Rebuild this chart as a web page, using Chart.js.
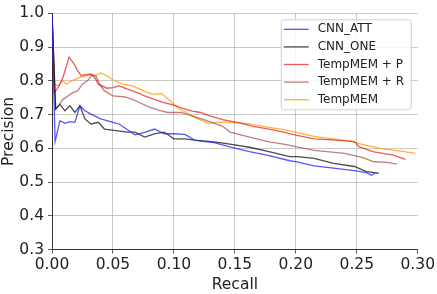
<html>
<head>
<script src="https://cdn.jsdelivr.net/npm/chart.js@4"></script>
<style>
  body { margin: 0; background: #fff; }
</style>
</head>
<body>
<div style="width:437px;height:294px;">
  <canvas id="myChart" width="437" height="294"></canvas>
</div>
<script>
// series labels
const labels = ['CNN_ATT', 'CNN_ONE', 'TempMEM + P', 'TempMEM + R', 'TempMEM'];

// CNN_ATT
const recallAtt = [0, 0.0025, 0.0065, 0.0106, 0.0147, 0.0188, 0.0229, 0.027, 0.032, 0.04, 0.05, 0.055, 0.062, 0.068, 0.076, 0.084, 0.092, 0.1, 0.109, 0.117, 0.125, 0.133, 0.146, 0.162, 0.178, 0.195, 0.201, 0.215, 0.231, 0.248, 0.258, 0.262, 0.265];
const precAtt   = [1.0, 0.62, 0.682, 0.674, 0.679, 0.677, 0.726, 0.711, 0.701, 0.687, 0.677, 0.672, 0.655, 0.64, 0.647, 0.657, 0.643, 0.643, 0.641, 0.624, 0.62, 0.617, 0.604, 0.59, 0.578, 0.563, 0.56, 0.548, 0.541, 0.534, 0.528, 0.52, 0.526];

// CNN_ONE
const recallOne = [0, 0.003, 0.0065, 0.0106, 0.0147, 0.0188, 0.0229, 0.027, 0.032, 0.038, 0.043, 0.051, 0.062, 0.068, 0.076, 0.084, 0.092, 0.1, 0.109, 0.117, 0.133, 0.146, 0.162, 0.178, 0.195, 0.201, 0.215, 0.231, 0.248, 0.258, 0.268];
const precOne   = [1.0, 0.716, 0.73, 0.711, 0.726, 0.706, 0.726, 0.687, 0.672, 0.677, 0.657, 0.653, 0.648, 0.648, 0.633, 0.643, 0.648, 0.628, 0.628, 0.624, 0.619, 0.612, 0.603, 0.59, 0.575, 0.575, 0.57, 0.555, 0.546, 0.531, 0.526];

// TempMEM + P
const recallP = [0, 0.002, 0.005, 0.009, 0.014, 0.018, 0.021, 0.024, 0.028, 0.032, 0.035, 0.038, 0.045, 0.05, 0.055, 0.062, 0.07, 0.076, 0.084, 0.092, 0.1, 0.106, 0.115, 0.122, 0.13, 0.14, 0.154, 0.165, 0.178, 0.19, 0.201, 0.215, 0.23, 0.248, 0.252, 0.264, 0.28, 0.29];
const precP   = [1.0, 0.765, 0.78, 0.81, 0.87, 0.85, 0.83, 0.815, 0.818, 0.82, 0.81, 0.79, 0.778, 0.78, 0.785, 0.775, 0.765, 0.755, 0.745, 0.735, 0.728, 0.72, 0.71, 0.706, 0.695, 0.685, 0.675, 0.665, 0.657, 0.648, 0.638, 0.628, 0.625, 0.62, 0.604, 0.589, 0.58, 0.567];

// TempMEM + R
const recallR = [0, 0.003, 0.006, 0.009, 0.013, 0.017, 0.021, 0.025, 0.029, 0.033, 0.036, 0.039, 0.043, 0.05, 0.06, 0.066, 0.072, 0.08, 0.088, 0.095, 0.106, 0.114, 0.122, 0.131, 0.14, 0.146, 0.162, 0.178, 0.19, 0.201, 0.215, 0.24, 0.255, 0.264, 0.275, 0.283];
const precR   = [1.0, 0.716, 0.73, 0.745, 0.755, 0.765, 0.77, 0.79, 0.8, 0.818, 0.815, 0.79, 0.77, 0.755, 0.752, 0.745, 0.735, 0.722, 0.712, 0.706, 0.706, 0.697, 0.688, 0.677, 0.665, 0.648, 0.633, 0.619, 0.612, 0.604, 0.594, 0.585, 0.572, 0.56, 0.558, 0.553];

// TempMEM
const recallMem = [0, 0.002, 0.005, 0.009, 0.012, 0.016, 0.023, 0.03, 0.035, 0.04, 0.045, 0.05, 0.058, 0.066, 0.075, 0.083, 0.09, 0.097, 0.103, 0.11, 0.118, 0.128, 0.14, 0.152, 0.162, 0.178, 0.19, 0.203, 0.215, 0.23, 0.245, 0.252, 0.27, 0.285, 0.298];
const precMem   = [1.0, 0.79, 0.785, 0.80, 0.79, 0.80, 0.81, 0.817, 0.815, 0.823, 0.815, 0.803, 0.79, 0.785, 0.77, 0.76, 0.762, 0.74, 0.72, 0.706, 0.69, 0.674, 0.678, 0.675, 0.672, 0.662, 0.655, 0.645, 0.635, 0.628, 0.621, 0.614, 0.599, 0.592, 0.585];

const colors = ['rgba(30,30,255,0.75)', 'rgba(0,0,0,0.7)', 'rgba(230,20,20,0.7)', 'rgba(170,70,70,0.7)', 'rgba(255,160,0,0.8)'];

const xTicks = [0, 0.05, 0.10, 0.15, 0.20, 0.25, 0.30];
const yTicks = [0.3, 0.4, 0.5, 0.6, 0.7, 0.8, 0.9, 1.0];

function pts(xs, ys) {
    return xs.map((x, i) => ({ x: x, y: ys[i] }));
}

const allX = [recallAtt, recallOne, recallP, recallR, recallMem];
const allY = [precAtt, precOne, precP, precR, precMem];

const datasets = labels.map((lab, i) => ({
    label: lab,
    data: pts(allX[i], allY[i]),
    borderColor: colors[i],
    backgroundColor: colors[i],
    borderWidth: 1.3,
    pointRadius: 0,
    tension: 0,
    fill: false
}));

// legend drawn like matplotlib's box in the upper right
const boxLegend = {
    id: 'boxLegend',
    afterDraw(chart) {
        const ctx = chart.ctx;
        const area = chart.chartArea;
        const x0 = area.right - 137, y0 = area.top + 6, w = 130, h = 90;
        ctx.save();
        ctx.fillStyle = 'rgba(255,255,255,0.85)';
        ctx.strokeStyle = '#d0d0d0';
        ctx.lineWidth = 1;
        ctx.beginPath();
        ctx.roundRect(x0 + 0.5, y0 + 0.5, w, h, 3);
        ctx.fill();
        ctx.stroke();
        ctx.font = '12px "DejaVu Sans"';
        ctx.textBaseline = 'middle';
        chart.data.datasets.forEach((ds, i) => {
            const yy = y0 + 10 + i * 17.6;
            ctx.strokeStyle = ds.borderColor;
            ctx.lineWidth = 1.3;
            ctx.beginPath();
            ctx.moveTo(x0 + 3, yy);
            ctx.lineTo(x0 + 28, yy);
            ctx.stroke();
            ctx.fillStyle = '#222';
            ctx.fillText(ds.label, x0 + 37, yy);
        });
        ctx.restore();
    }
};

const ctx = document.getElementById('myChart').getContext('2d');
const chart = new Chart(ctx, {
    type: 'line',
    data: { datasets: datasets },
    plugins: [boxLegend],
    options: {
        responsive: false,
        animation: false,
        layout: { padding: { top: 10, right: 18, left: 0, bottom: 0 } },
        plugins: { legend: { display: false }, tooltip: { enabled: false } },
        scales: {
            x: {
                type: 'linear',
                min: 0, max: 0.3,
                afterBuildTicks: s => { s.ticks = xTicks.map(v => ({ value: v })); },
                afterFit: s => { s.height = 44.5; },
                ticks: {
                    callback: v => v.toFixed(2),
                    font: { family: 'DejaVu Sans', size: 15.5 },
                    color: '#222',
                    padding: 2,
                    maxRotation: 0
                },
                grid: {
                    color: c => (c.tick && c.tick.value >= 0.3) ? 'rgba(0,0,0,0)' : 'rgba(170,170,170,0.8)',
                    borderDash: [3, 3],
                    tickColor: '#333',
                    tickLength: 4,
                    tickBorderDash: [],
                    lineWidth: 0.8
                },
                border: { display: true, color: '#333', width: 1 },
                title: {
                    display: true, text: 'Recall',
                    font: { family: 'DejaVu Sans', size: 15.5 },
                    color: '#222',
                    padding: { top: 0, bottom: 0 }
                }
            },
            y: {
                type: 'linear',
                min: 0.3, max: 1.0,
                afterBuildTicks: s => { s.ticks = yTicks.map(v => ({ value: v })); },
                afterFit: s => { s.width = 52; },
                ticks: {
                    callback: v => v.toFixed(1),
                    font: { family: 'DejaVu Sans', size: 15.5 },
                    color: '#222',
                    padding: 4
                },
                grid: {
                    color: 'rgba(170,170,170,0.8)',
                    borderDash: [3, 3],
                    tickColor: '#333',
                    tickLength: 4,
                    tickBorderDash: [],
                    lineWidth: 0.8
                },
                border: { display: true, color: '#333', width: 1 },
                title: {
                    display: true, text: 'Precision',
                    font: { family: 'DejaVu Sans', size: 15.5 },
                    color: '#222',
                    padding: { top: 0, bottom: 0 }
                }
            }
        }
    }
});
</script>
</body>
</html>
